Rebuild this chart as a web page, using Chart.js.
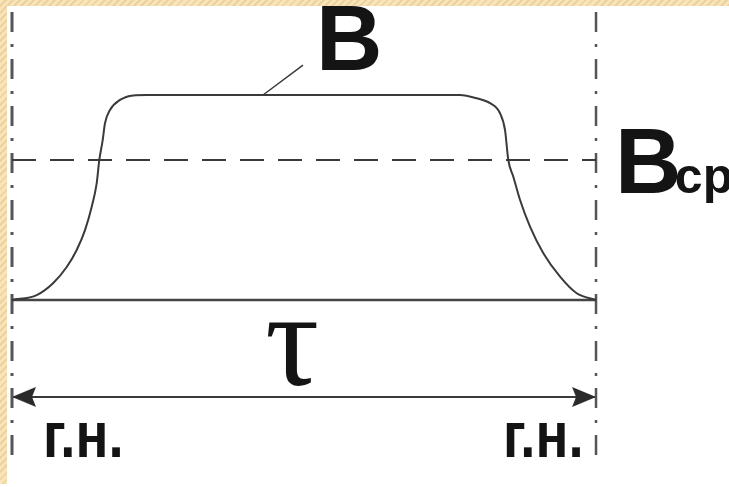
<!DOCTYPE html>
<html><head><meta charset="utf-8">
<script src="https://cdn.jsdelivr.net/npm/chart.js@4/dist/chart.umd.min.js"></script>
<style>
html,body{margin:0;padding:0;background:#fff;}
#wrap{position:relative;width:729px;height:487px;overflow:hidden;background:#fff;}
canvas{display:block;}
.band{position:absolute;background:repeating-linear-gradient(135deg,#f7e4bb 0 3px,#eed19b 3px 5px);}
</style></head><body>
<div id="wrap"><canvas id="c" width="729" height="487"></canvas>
<div class="band" style="left:0;top:0;width:729px;height:6px"></div>
<div class="band" style="left:0;top:0;width:7px;height:484px"></div>
</div>
<script>
// Time axis: 0 = left "г.н.", 100 = right "г.н." (one period τ). B normalised to its plateau.
const curveT = [0, 4.23, 7.07, 9.37, 11.08, 12.5, 13.65, 14.5, 14.95, 15.53, 15.92, 16.78, 18.49, 20.77, 23.07,
                76.71, 79.57, 81.85, 83.56, 84.42, 84.98, 85.84, 86.99, 88.7, 90.98, 93.84, 96.69, 100];
const curveB = [0, 0.024, 0.083, 0.161, 0.244, 0.341, 0.455, 0.569, 0.683, 0.78, 0.862, 0.927, 0.976, 0.998, 1,
                1, 0.984, 0.96, 0.911, 0.829, 0.683, 0.601, 0.488, 0.358, 0.228, 0.114, 0.033, 0];
const bAvg = 0.683;           // Bср level
const tauStart = 0;           // left г.н.
const tauEnd = 100;           // right г.н.
const neutralTop = 1.405;     // extent of г.н. lines
const neutralBottom = -0.79;
const arrowLevel = -0.473;    // level of the τ dimension arrow
const leaderT = [42.98, 49.83];
const leaderB = [1.0, 1.146];
const labelTexts = ['B', 'B', 'ср', 'τ', 'г.н.', 'г.н.'];

const curve = curveT.map((t, i) => ({x: t, y: curveB[i]}));
const ink = '#3a3a3a';

// arrowhead image, tip at image centre, pointing right
function arrowHead() {
  const c = document.createElement('canvas');
  c.width = 52; c.height = 24;
  const g = c.getContext('2d');
  g.fillStyle = '#2a2a2a';
  g.beginPath();
  g.moveTo(26, 12);
  g.lineTo(2, 2);
  g.lineTo(6, 12);
  g.lineTo(2, 22);
  g.closePath();
  g.fill();
  return c;
}
const head = arrowHead();

const textPlugin = {
  id: 'texts',
  afterDatasetsDraw(chart) {
    const {ctx, scales: {x, y}} = chart;
    const items = [
      {t: labelTexts[0], x: 52.05, y: 1.122, font: 'bold 92px "Liberation Sans"', sx: 1},
      {t: labelTexts[1], x: 103.25, y: 0.522, font: 'bold 92px "Liberation Sans"', sx: 1},
      {t: labelTexts[2], x: 113.5, y: 0.522, font: 'bold 50px "Liberation Sans"', sx: 1},
      {t: labelTexts[3], x: 43.3, y: -0.415, font: '135px "Liberation Serif"', sx: 1},
      {t: labelTexts[4], x: 5.31, y: -0.766, font: 'bold 65px "Liberation Sans"', sx: 0.84},
      {t: labelTexts[5], x: 84.08, y: -0.766, font: 'bold 65px "Liberation Sans"', sx: 0.84}
    ];
    ctx.save();
    ctx.fillStyle = '#141414';
    ctx.textBaseline = 'alphabetic';
    ctx.textAlign = 'left';
    for (const it of items) {
      ctx.save();
      ctx.font = it.font;
      ctx.translate(x.getPixelForValue(it.x), y.getPixelForValue(it.y));
      ctx.scale(it.sx, 1);
      ctx.fillText(it.t, 0, 0);
      ctx.restore();
    }
    ctx.restore();
  }
};

new Chart(document.getElementById('c'), {
  type: 'scatter',
  data: {
    datasets: [
      {data: curve, showLine: true, borderColor: ink, borderWidth: 2, pointRadius: 0,
       cubicInterpolationMode: 'monotone'},
      {data: [{x: tauStart, y: 0}, {x: tauEnd, y: 0}], showLine: true, borderColor: '#444', borderWidth: 2.5, pointRadius: 0},
      {data: [{x: tauStart, y: bAvg}, {x: tauEnd, y: bAvg}], showLine: true, borderColor: ink, borderWidth: 2,
       borderDash: [24, 14], pointRadius: 0},
      {data: [{x: tauStart, y: neutralTop}, {x: tauStart, y: neutralBottom}], showLine: true, borderColor: '#555',
       borderWidth: 3, borderDash: [20, 12, 3, 12], pointRadius: 0},
      {data: [{x: tauEnd, y: neutralTop}, {x: tauEnd, y: neutralBottom}], showLine: true, borderColor: '#555',
       borderWidth: 2.5, borderDash: [20, 12, 3, 12], pointRadius: 0},
      {data: [{x: leaderT[0], y: leaderB[0]}, {x: leaderT[1], y: leaderB[1]}], showLine: true, borderColor: ink,
       borderWidth: 1.5, pointRadius: 0},
      {data: [{x: tauStart, y: arrowLevel}, {x: tauEnd, y: arrowLevel}], showLine: true, borderColor: ink,
       borderWidth: 2, pointStyle: head, pointRotation: [180, 0], pointRadius: 10}
    ]
  },
  options: {
    responsive: false,
    devicePixelRatio: 1,
    animation: false,
    layout: {padding: 0, autoPadding: false},
    plugins: {legend: {display: false}, tooltip: {enabled: false}},
    scales: {
      x: {type: 'linear', display: false, min: -2.055, max: 122.77},
      y: {type: 'linear', display: false, min: -0.9122, max: 1.4634}
    }
  },
  plugins: [textPlugin]
});
</script>
</body></html>
